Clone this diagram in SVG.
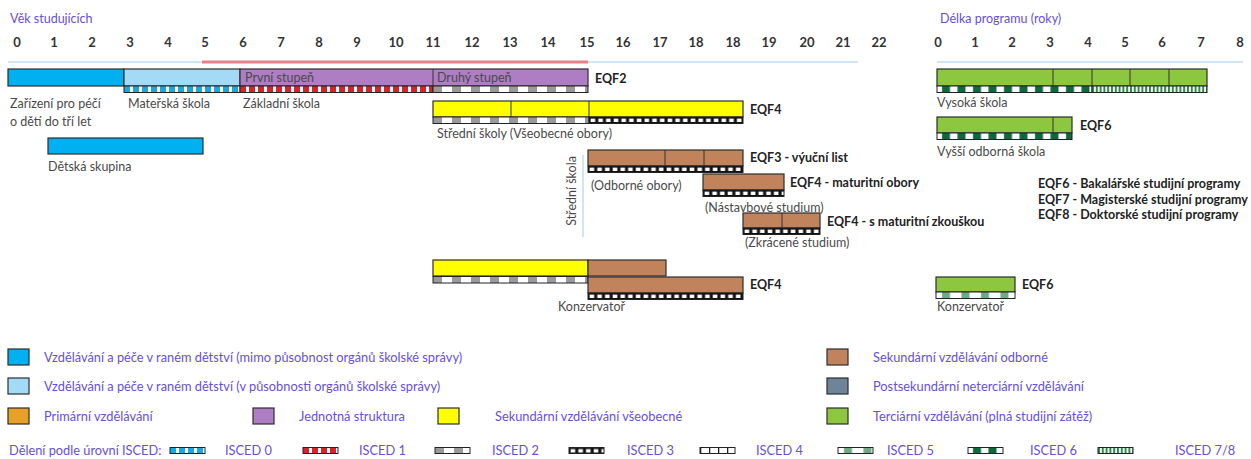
<svg xmlns="http://www.w3.org/2000/svg" width="1251" height="459" viewBox="0 0 1251 459">
<style>
text{font-family:Lato,"Liberation Sans",Arial,sans-serif;font-size:12.5px;fill:#4a4a4a}
.ax{font-weight:bold;font-size:13px;fill:#333;text-anchor:middle}
.pur{fill:#6650D8}
.lg{font-size:12.8px}
.eqf{font-weight:bold;font-size:12.5px;fill:#222}
.bar{stroke:#2e2e2e;stroke-width:1.2}
.st{stroke:#222;stroke-width:1}
.dv{stroke:#333;stroke-width:1}
.cy{fill:#00B0F0}.lb{fill:#A3DBF6}.pu{fill:#AE7DC4}.ye{fill:#FFFF00}.br{fill:#C1835B}.gr{fill:#8DC63F}.or{fill:#E8A127}.gy{fill:#6E8499}
</style>
<defs>
<pattern id="p0" patternUnits="userSpaceOnUse" width="9" height="8"><rect width="9" height="8" fill="#fff"/><rect width="6" height="8" fill="#1BA8E2"/></pattern>
<pattern id="p1" patternUnits="userSpaceOnUse" width="9" height="8"><rect width="9" height="8" fill="#fff"/><rect width="6" height="8" fill="#D9232A"/></pattern>
<pattern id="p2" patternUnits="userSpaceOnUse" width="19" height="8"><rect width="19" height="8" fill="#fff"/><rect width="9" height="8" fill="#9A9A9A"/></pattern>
<pattern id="p3" patternUnits="userSpaceOnUse" width="7.7" height="8"><rect width="7.7" height="8" fill="#111"/><rect x="1.6" y="1.6" width="4.6" height="3.4" fill="#fff"/></pattern>
<pattern id="p4" patternUnits="userSpaceOnUse" width="9" height="8"><rect width="9" height="8" fill="#fff"/><rect width="1.3" height="8" fill="#222"/></pattern>
<pattern id="p5" patternUnits="userSpaceOnUse" width="19.5" height="8"><rect width="19.5" height="8" fill="#fff"/><rect x="6" width="8" height="8" fill="#6FA985"/></pattern>
<pattern id="p6" patternUnits="userSpaceOnUse" width="15.5" height="8"><rect width="15.5" height="8" fill="#fff"/><rect x="5" width="8" height="8" fill="#0F6A3B"/></pattern>
<pattern id="p7" patternUnits="userSpaceOnUse" width="3.8" height="8"><rect width="3.8" height="8" fill="#fff"/><rect width="2" height="8" fill="#2F8A48"/></pattern>
</defs>
<rect width="1251" height="459" fill="#fff"/>

<g id="axes">
<text x="10" y="23" class="pur">Věk studujících</text>
<text x="940" y="23" class="pur">Délka programu (roky)</text>
<g class="axnums">
<text x="17" y="47" class="ax">0</text><text x="54" y="47" class="ax">1</text><text x="92" y="47" class="ax">2</text><text x="130" y="47" class="ax">3</text><text x="168" y="47" class="ax">4</text><text x="205" y="47" class="ax">5</text><text x="243" y="47" class="ax">6</text><text x="281" y="47" class="ax">7</text><text x="319" y="47" class="ax">8</text><text x="357" y="47" class="ax">9</text><text x="396" y="47" class="ax">10</text><text x="433" y="47" class="ax">11</text><text x="472" y="47" class="ax">12</text><text x="510" y="47" class="ax">13</text><text x="548" y="47" class="ax">14</text><text x="587" y="47" class="ax">15</text><text x="623" y="47" class="ax">16</text><text x="660" y="47" class="ax">17</text><text x="696" y="47" class="ax">18</text><text x="733" y="47" class="ax">18</text><text x="769" y="47" class="ax">19</text><text x="807" y="47" class="ax">20</text><text x="843" y="47" class="ax">21</text><text x="879" y="47" class="ax">22</text>
<text x="938" y="47" class="ax">0</text><text x="975" y="47" class="ax">1</text><text x="1012" y="47" class="ax">2</text><text x="1050" y="47" class="ax">3</text><text x="1088" y="47" class="ax">4</text><text x="1125" y="47" class="ax">5</text><text x="1162" y="47" class="ax">6</text><text x="1201" y="47" class="ax">7</text><text x="1240" y="47" class="ax">8</text>
</g>
<line x1="8" y1="62" x2="858" y2="62" stroke="#C5DDEF" stroke-width="1.5"/>
<line x1="202" y1="62" x2="588" y2="62" stroke="#EC7E86" stroke-width="3"/>
<line x1="937" y1="62" x2="1243" y2="62" stroke="#C5DDEF" stroke-width="1.5"/>
</g>

<g id="connectors">
<line x1="583" y1="155" x2="583" y2="237" stroke="#C5DDEF" stroke-width="1.5"/>
</g>

<g id="zarizeni">
<rect x="8" y="69" width="116" height="17" class="bar cy"/>
<text x="10" y="107.5">Zařízení pro péčí</text>
<text x="10" y="125.5">o dětí do tří let</text>
</g>
<g id="materska">
<rect x="124" y="69" width="116" height="17" class="bar lb"/>
<rect transform="translate(124,86)" width="116" height="6.5" fill="url(#p0)" class="st"/>
<text x="128" y="107.5">Mateřská škola</text>
</g>
<g id="zakladni">
<rect x="240" y="69" width="348" height="17" class="bar pu"/>
<line x1="433" y1="69" x2="433" y2="86" class="dv"/>
<rect transform="translate(240,86)" width="193" height="6.5" fill="url(#p1)" class="st"/>
<rect transform="translate(433,86)" width="155" height="6.5" fill="url(#p2)" class="st"/>
<text x="245" y="82" fill="#333">První stupeň</text>
<text x="437" y="82" fill="#333">Druhý stupeň</text>
<text x="243" y="107.5">Základní škola</text>
<text x="595" y="83" class="eqf">EQF2</text>
</g>
<g id="detska">
<rect x="48" y="138" width="155" height="16" class="bar cy"/>
<text x="48" y="170.5">Dětská skupina</text>
</g>
<g id="vseobecne">
<rect x="433" y="101" width="310" height="16" class="bar ye"/>
<line x1="511" y1="101" x2="511" y2="117" class="dv"/>
<line x1="589" y1="101" x2="589" y2="117" class="dv"/>
<rect transform="translate(433,117)" width="156" height="6.5" fill="url(#p2)" class="st"/>
<rect transform="translate(589,117)" width="154" height="6.5" fill="url(#p3)" class="st"/>
<text x="750" y="114" class="eqf">EQF4</text>
<text x="437" y="137.5">Střední školy (Všeobecné obory)</text>
</g>
<text transform="translate(576,191) rotate(-90)" text-anchor="middle" fill="#555">Střední škola</text>
<g id="odborne">
<rect x="588" y="150" width="155" height="16" class="bar br"/>
<line x1="665" y1="150" x2="665" y2="166" class="dv"/>
<line x1="704" y1="150" x2="704" y2="166" class="dv"/>
<rect transform="translate(588,166)" width="155" height="6.5" fill="url(#p3)" class="st"/>
<text x="750" y="162" class="eqf">EQF3 - výuční list</text>
<text x="591" y="190">(Odborné obory)</text>
</g>
<g id="nastavbove">
<rect x="703" y="174" width="81" height="16" class="bar br"/>
<rect transform="translate(703,190)" width="81" height="6.5" fill="url(#p3)" class="st"/>
<text x="790" y="187" class="eqf">EQF4 - maturitní obory</text>
<text x="705" y="212">(Nástavbové studium)</text>
</g>
<g id="zkracene">
<rect x="743" y="213" width="77" height="15" class="bar br"/>
<line x1="782" y1="213" x2="782" y2="228" class="dv"/>
<rect transform="translate(743,228)" width="77" height="6.5" fill="url(#p3)" class="st"/>
<text x="827" y="226" class="eqf">EQF4 - s maturitní zkouškou</text>
<text x="745" y="247">(Zkrácené studium)</text>
</g>
<g id="konzervator">
<rect x="433" y="260" width="155" height="16" class="bar ye"/>
<rect transform="translate(433,276.5)" width="155" height="6.5" fill="url(#p2)" class="st"/>
<rect x="588" y="260" width="78" height="16" class="bar br"/>
<rect x="588" y="277" width="155" height="16" class="bar br"/>
<rect transform="translate(588,293)" width="155" height="6.5" fill="url(#p3)" class="st"/>
<text x="750" y="289" class="eqf">EQF4</text>
<text x="558" y="311">Konzervatoř</text>
</g>
<g id="vysoka">
<rect x="937" y="69" width="270" height="17" class="bar gr"/>
<line x1="1053" y1="69" x2="1053" y2="86" class="dv"/>
<line x1="1092" y1="69" x2="1092" y2="86" class="dv"/>
<line x1="1130" y1="69" x2="1130" y2="86" class="dv"/>
<line x1="1169" y1="69" x2="1169" y2="86" class="dv"/>
<rect transform="translate(937,86)" width="155" height="6.5" fill="url(#p6)" class="st"/>
<rect transform="translate(1092,86)" width="115" height="6.5" fill="url(#p7)" class="st"/>
<text x="937" y="106.5">Vysoká škola</text>
</g>
<g id="vyssi">
<rect x="937" y="117" width="135" height="16" class="bar gr"/>
<line x1="1053" y1="117" x2="1053" y2="133" class="dv"/>
<rect transform="translate(937,133)" width="135" height="6.5" fill="url(#p6)" class="st"/>
<text x="1080" y="130" class="eqf">EQF6</text>
<text x="937" y="156">Vyšší odborná škola</text>
</g>
<g id="eqf-list">
<text x="1038" y="188" class="eqf">EQF6 - Bakalářské studijní programy</text>
<text x="1038" y="203.5" class="eqf">EQF7 - Magisterské studijní programy</text>
<text x="1038" y="219" class="eqf">EQF8 - Doktorské studijní programy</text>
</g>
<g id="konzervator-vs">
<rect x="936" y="277" width="79" height="15" class="bar gr"/>
<rect transform="translate(936,292)" width="79" height="6.5" fill="url(#p5)" class="st"/>
<text x="1022" y="289" class="eqf">EQF6</text>
<text x="937" y="311">Konzervatoř</text>
</g>

<g id="legend">
<rect x="8" y="349" width="21" height="16" class="bar cy"/>
<text x="44" y="361.5" class="pur lg">Vzdělávání a péče v raném dětství (mimo působnost orgánů školské správy)</text>
<rect x="8" y="378" width="21" height="16" class="bar lb"/>
<text x="44" y="390.5" class="pur lg">Vzdělávání a péče v raném dětství (v působnosti orgánů školské správy)</text>
<rect x="8" y="408" width="21" height="16" class="bar or"/>
<text x="44" y="420.5" class="pur lg">Primární vzdělávání</text>
<rect x="253" y="408" width="21" height="16" class="bar pu"/>
<text x="299" y="420.5" class="pur lg">Jednotná struktura</text>
<rect x="438" y="408" width="21" height="16" class="bar ye"/>
<text x="495" y="420.5" class="pur lg">Sekundární vzdělávání všeobecné</text>
<rect x="827" y="349" width="21" height="16" class="bar br"/>
<text x="873" y="361.5" class="pur lg">Sekundární vzdělávání odborné</text>
<rect x="827" y="378" width="21" height="16" class="bar gy"/>
<text x="873" y="390.5" class="pur lg">Postsekundární neterciární vzdělávání</text>
<rect x="827" y="408" width="21" height="16" class="bar gr"/>
<text x="873" y="420.5" class="pur lg">Terciární vzdělávání (plná studijní zátěž)</text>
<text x="9" y="455" class="pur lg">Dělení podle úrovní ISCED:</text>
<rect transform="translate(170,447.5)" width="35" height="6" fill="url(#p0)" class="st"/>
<text x="225" y="455" class="pur lg">ISCED 0</text>
<rect transform="translate(303,447.5)" width="35" height="6" fill="url(#p1)" class="st"/>
<text x="359" y="455" class="pur lg">ISCED 1</text>
<rect transform="translate(435,447.5)" width="35" height="6" fill="url(#p2)" class="st"/>
<text x="492" y="455" class="pur lg">ISCED 2</text>
<rect transform="translate(569,447.5)" width="35" height="6" fill="url(#p3)" class="st"/>
<text x="627" y="455" class="pur lg">ISCED 3</text>
<rect transform="translate(700,447.5)" width="35" height="6" fill="url(#p4)" class="st"/>
<text x="756" y="455" class="pur lg">ISCED 4</text>
<rect transform="translate(838,447.5)" width="35" height="6" fill="url(#p5)" class="st"/>
<text x="887" y="455" class="pur lg">ISCED 5</text>
<rect transform="translate(968,447.5)" width="35" height="6" fill="url(#p6)" class="st"/>
<text x="1030" y="455" class="pur lg">ISCED 6</text>
<rect transform="translate(1098,447.5)" width="35" height="6" fill="url(#p7)" class="st"/>
<text x="1175" y="455" class="pur lg">ISCED 7/8</text>
</g>
</svg>
